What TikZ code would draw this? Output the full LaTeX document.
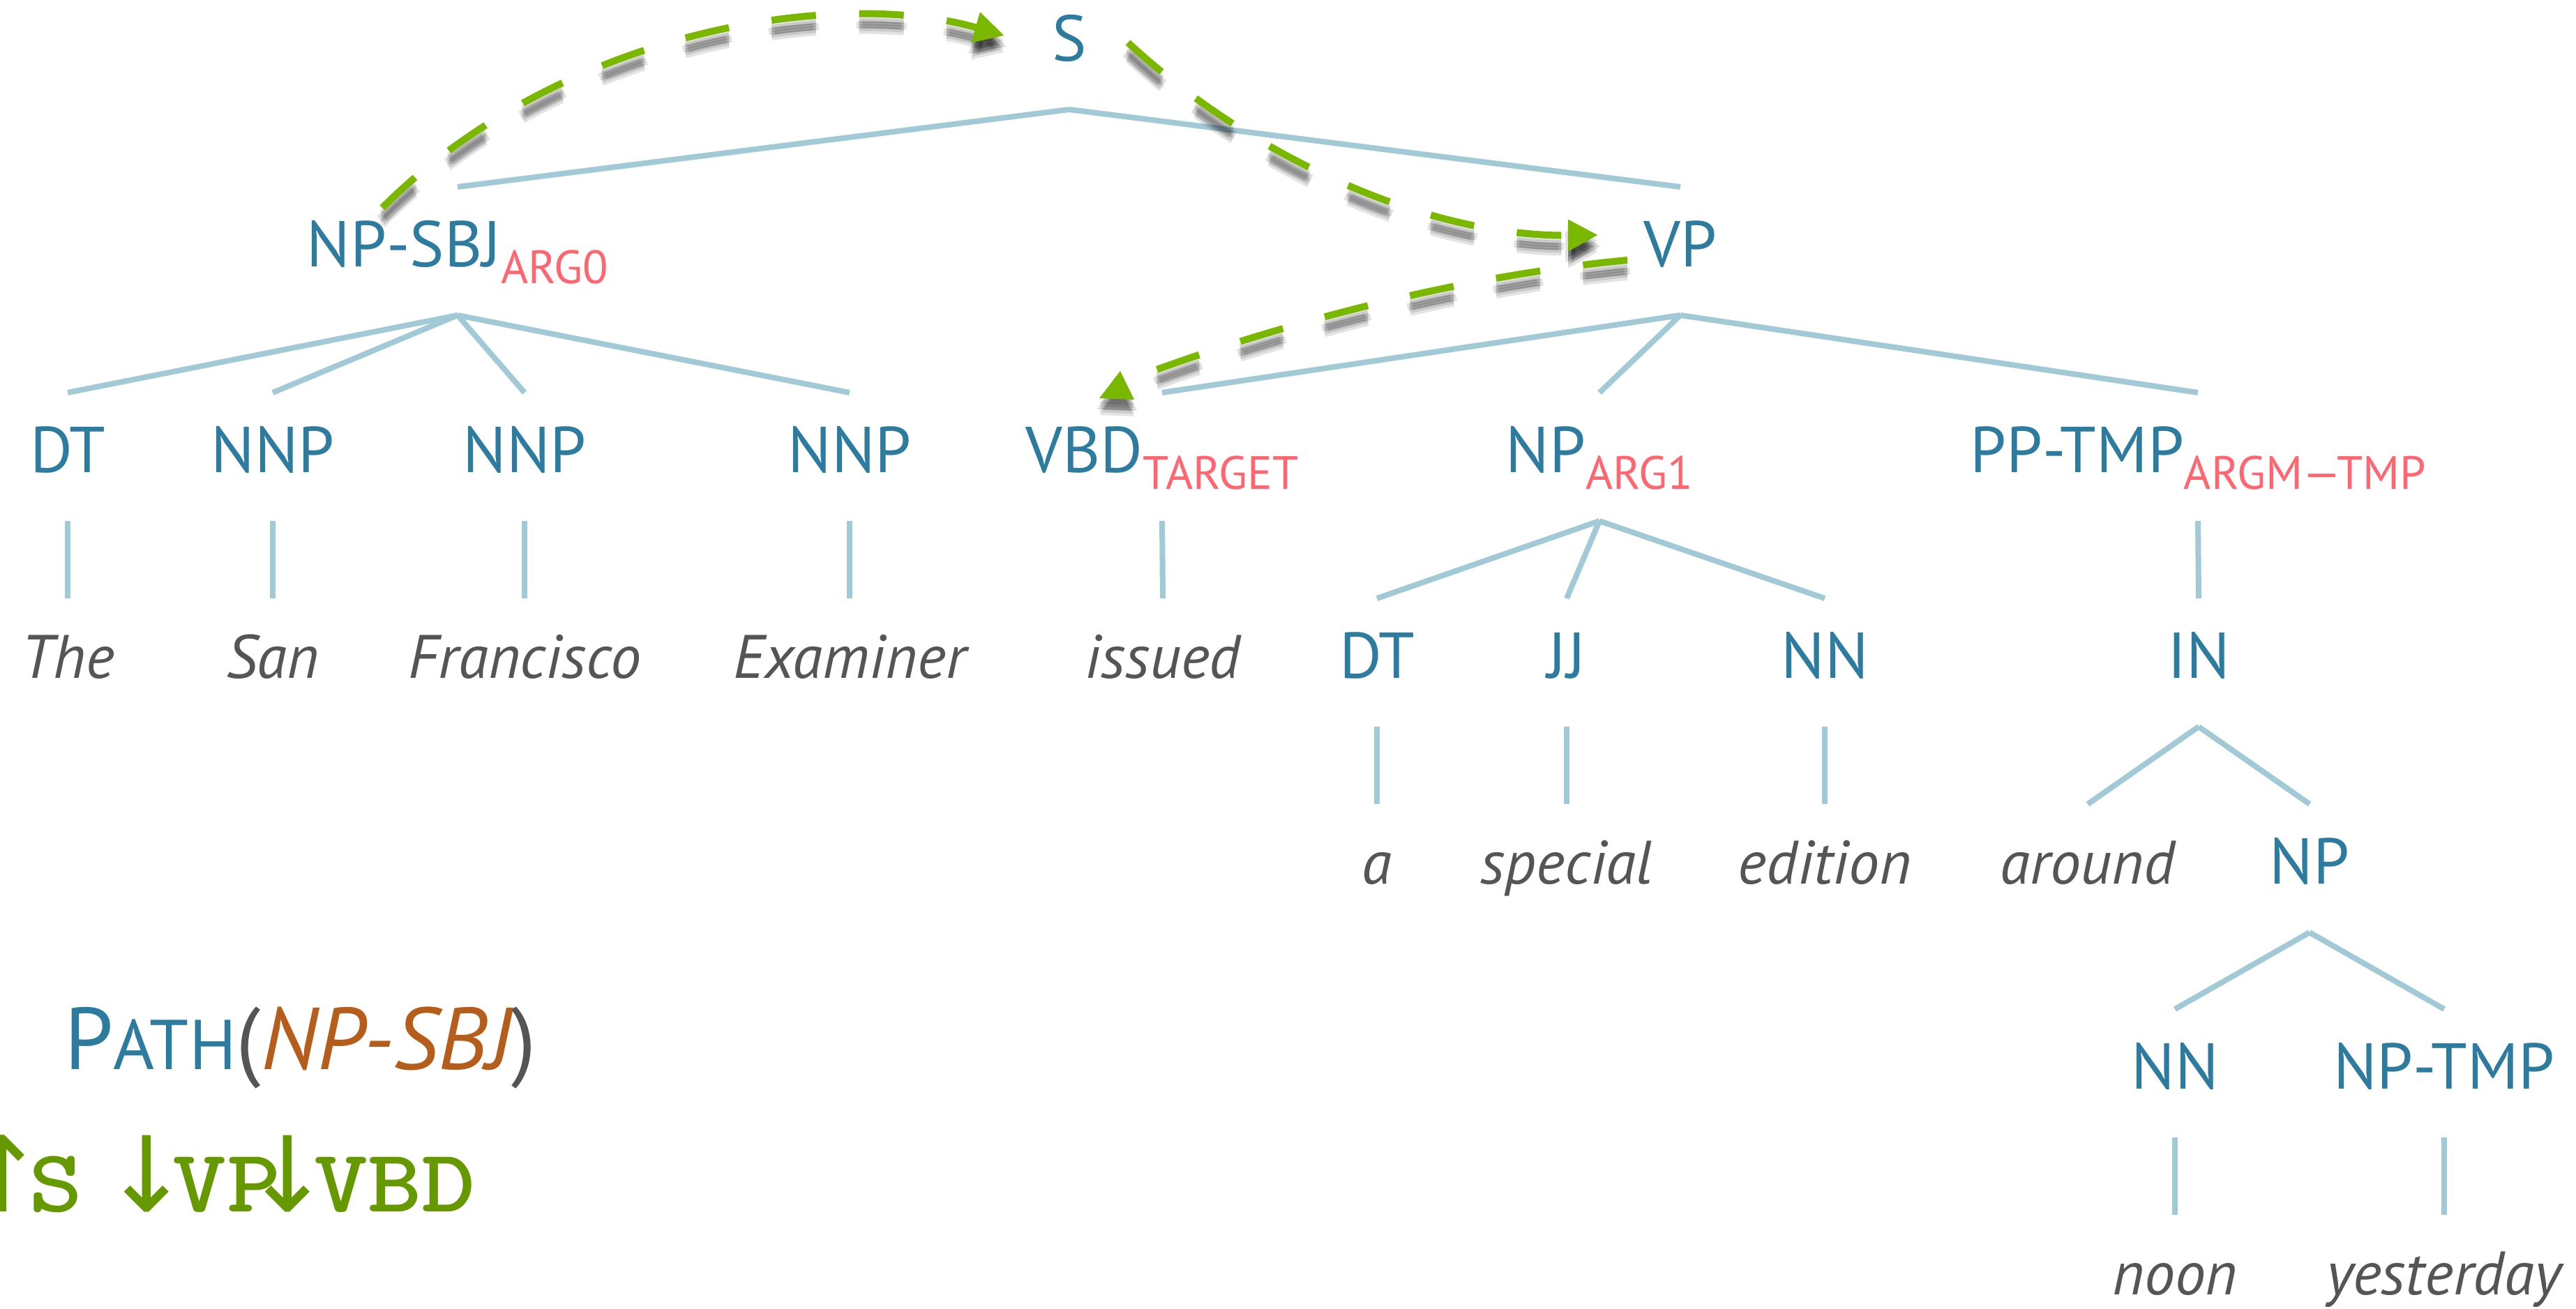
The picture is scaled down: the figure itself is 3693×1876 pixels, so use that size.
\documentclass[tikz,border=0pt]{standalone}
\usepackage{fontspec}
\usepackage{graphicx}
\setmainfont{PT Sans}
\newfontfamily\arrowfont{DejaVu Sans}
\usetikzlibrary{arrows.meta,calc}
\definecolor{lblblue}{HTML}{2E7BA0}
\definecolor{subred}{HTML}{FF6670}
\definecolor{wordgray}{HTML}{555555}
\definecolor{edgeblue}{HTML}{A2CAD6}
\definecolor{dashgreen}{HTML}{7AB800}
\definecolor{pathorange}{HTML}{B55E1B}
\definecolor{monogreen}{HTML}{669900}
\newcommand{\sublbl}[1]{\raisebox{-24pt}{\fontsize{67}{75}\selectfont\color{subred}#1}}
\newcommand{\treeedge}[2]{\draw[treeline] ($(#1.base)+(0,70)$) -- ($(#2.base)+(0,-114)$);}
\newcommand{\wide}[1]{\scalebox{1.15}[1]{#1}}
\newcommand{\narrow}[1]{\makebox[40pt][c]{#1}}
\begin{document}
\begin{tikzpicture}[x=1pt,y=-1pt,
  lbl/.style={inner sep=0pt, anchor=base, text=lblblue, font=\fontsize{93}{110}\selectfont},
  wrd/.style={inner sep=0pt, anchor=base, text=wordgray, font=\fontsize{88}{105}\selectfont\itshape},
  mono/.style={inner sep=0pt, anchor=base, text=monogreen, font=\ttfamily\bfseries\fontsize{128}{150}\selectfont},
  monoarrow/.style={inner sep=0pt, anchor=base, text=monogreen, font=\arrowfont\fontsize{150}{170}\selectfont},
  treeline/.style={draw=edgeblue, line width=8pt},
  greendash/.style={draw=dashgreen, line width=10pt, dash pattern=on 64pt off 62pt},
  shadowdash/.style={draw=black, opacity=0.11, line width=10pt, dash pattern=on 64pt off 62pt},
  headtip/.style={-{Triangle[length=43pt,width=43pt]}}
]
\useasboundingbox (0,0) rectangle (3693,1876);

% ---- nodes ----
\node[lbl] (S) at (1533,87) {S};
\node[lbl] (npsbj) at (656,382) {NP-SBJ\sublbl{ARG0}};
\node[lbl] (vp) at (2409,382) {VP};
\node[lbl] (dt1) at (97,677) {DT};
\node[lbl] (nnp1) at (391,677) {NNP};
\node[lbl] (nnp2) at (752,677) {NNP};
\node[lbl] (nnp3) at (1218,677) {NNP};
\node[lbl] (vbd) at (1666,677) {VBD\sublbl{TARGET}};
\node[lbl] (np1) at (2293,677) {NP\sublbl{ARG1}};
\node[lbl] (pptmp) at (3151,677) {PP-TMP\sublbl{ARGM—TMP}};
\node[wrd] (w1) at (97,972) {The};
\node[wrd] (w2) at (391,972) {San};
\node[wrd] (w3) at (752,972) {Francisco};
\node[wrd] (w4) at (1218,972) {Examiner};
\node[wrd] (w5) at (1667,972) {issued};
\node[lbl] (dt2) at (1974,972) {DT};
\node[lbl] (jj) at (2246,972) {JJ};
\node[lbl] (nn1) at (2616,972) {NN};
\node[lbl] (in) at (3152,972) {IN};
\node[wrd] (w6) at (1974,1267) {a};
\node[wrd] (w7) at (2246,1267) {special};
\node[wrd] (w8) at (2616,1267) {edition};
\node[wrd] (w9) at (2993,1267) {around};
\node[lbl] (np2) at (3311,1267) {NP};
\node[lbl] (nn2) at (3118,1561) {NN};
\node[lbl] (nptmp) at (3504,1561) {NP-TMP};
\node[wrd] (w10) at (3118,1856) {noon};
\node[wrd] (w11) at (3504,1856) {yesterday};

% ---- tree edges ----
\treeedge{S}{npsbj}
\treeedge{S}{vp}
\treeedge{npsbj}{dt1}
\treeedge{npsbj}{nnp1}
\treeedge{npsbj}{nnp2}
\treeedge{npsbj}{nnp3}
\treeedge{vp}{vbd}
\treeedge{vp}{np1}
\treeedge{vp}{pptmp}
\treeedge{dt1}{w1}
\treeedge{nnp1}{w2}
\treeedge{nnp2}{w3}
\treeedge{nnp3}{w4}
\treeedge{vbd}{w5}
\treeedge{np1}{dt2}
\treeedge{np1}{jj}
\treeedge{np1}{nn1}
\treeedge{pptmp}{in}
\treeedge{dt2}{w6}
\treeedge{jj}{w7}
\treeedge{nn1}{w8}
\treeedge{in}{w9}
\treeedge{in}{np2}
\treeedge{np2}{nn2}
\treeedge{np2}{nptmp}
\treeedge{nn2}{w10}
\treeedge{nptmp}{w11}

% ---- path arrows ----
\coordinate (a1s) at (548,298);
\coordinate (a1e) at (1440,51);
\coordinate (a2s) at (1617,61);
\coordinate (a2e) at (2291,337);
\coordinate (a3s) at (2333,373);
\coordinate (a3e) at (1650,533);
\coordinate (a3t) at (1606,532);
\coordinate (a3l) at (1576,571);
\coordinate (a3r) at (1626,573);

\foreach \dx/\dy in {0/8,0/12,0/16,0/20,0/24,-4/16,4/16}{
  \begin{scope}[transform canvas={shift={(\dx,\dy)}}]
    \draw[shadowdash,headtip] (a1s) .. controls (798,48) and (1190,-20) .. (a1e);
    \draw[shadowdash,headtip] (a2s) .. controls (1800,230) and (2050,340) .. (a2e);
    \draw[shadowdash] (a3s) .. controls (2100,395) and (1850,460) .. (a3e);
    \fill[black,opacity=0.11] (a3t) -- (a3l) -- (a3r) -- cycle;
  \end{scope}
}
\draw[greendash,headtip] (a1s) .. controls (798,48) and (1190,-20) .. (a1e);
\draw[greendash,headtip] (a2s) .. controls (1800,230) and (2050,340) .. (a2e);
\draw[greendash] (a3s) .. controls (2100,395) and (1850,460) .. (a3e);
\fill[dashgreen] (a3t) -- (a3l) -- (a3r) -- cycle;

% ---- path formula ----
\node[anchor=base west, inner sep=0pt, font=\fontsize{126}{140}\selectfont] (pathlbl) at (92,1533)
  {\textcolor{lblblue}{P{\fontsize{101}{110}\selectfont ATH}}\textcolor{wordgray}{(}\textcolor{pathorange}{\itshape NP-SBJ}\textcolor{wordgray}{)}};
\node[monoarrow] (m1) at (3,1737) {\narrow{↑}};
\node[mono] (m2) at (80,1737) {\wide{S}};
\node[monoarrow] (m3) at (210,1737) {\narrow{↓}};
\node[mono] (m4) at (325,1737) {\wide{VP}};
\node[monoarrow] (m5) at (412,1737) {\narrow{↓}};
\node[mono] (m6) at (566,1737) {\wide{VBD}};
\end{tikzpicture}
\end{document}
